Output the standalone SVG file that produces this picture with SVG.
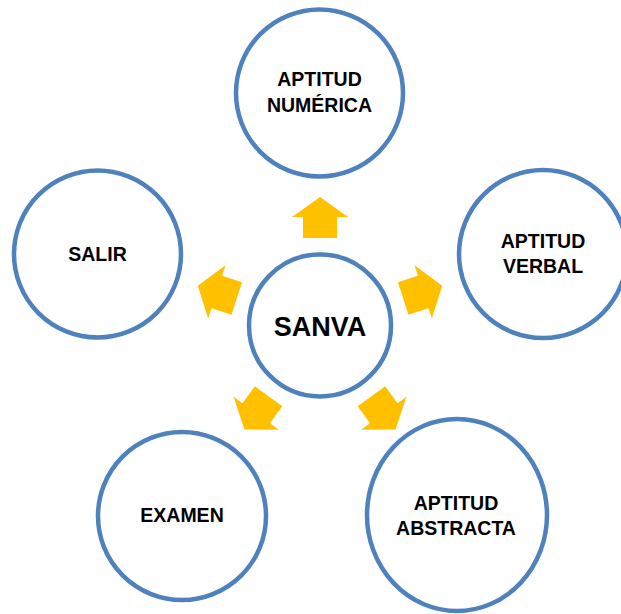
<svg xmlns="http://www.w3.org/2000/svg" width="621" height="614" viewBox="0 0 621 614">
  <style>
    .node { fill: #ffffff; stroke: #4f81bd; stroke-width: 4.5; }
    .label { font-family: "Liberation Sans", Arial, sans-serif; font-weight: bold; font-size: 19.5px; fill: #000000; text-anchor: middle; }
    .hub { font-size: 27px; }
    .arrow { fill: #ffc000; }
  </style>
  <defs>
    <!-- block arrow pointing up, drawn relative to the hub centre -->
    <path id="blockArrow" d="M0,-128.5 L28,-108.5 L17,-108.5 L17,-87.5 L-17,-87.5 L-17,-108.5 L-28,-108.5 Z"/>
  </defs>
  <rect width="621" height="614" fill="#ffffff"/>

  <g id="connectors" class="arrow" transform="translate(320,325.5)">
    <use href="#blockArrow"/>
    <use href="#blockArrow" transform="rotate(72)"/>
    <use href="#blockArrow" transform="rotate(144)"/>
    <use href="#blockArrow" transform="rotate(216)"/>
    <use href="#blockArrow" transform="rotate(288)"/>
  </g>

  <g id="sanva">
    <circle class="node" cx="320" cy="325.5" r="71"/>
    <text class="label hub" x="320" y="336">SANVA</text>
  </g>

  <g id="aptitud-numerica">
    <circle class="node" cx="319.5" cy="93" r="83.5"/>
    <text class="label" x="319.5" y="86">APTITUD</text>
    <text class="label" x="319.5" y="112">NUMÉRICA</text>
  </g>

  <g id="aptitud-verbal">
    <circle class="node" cx="543" cy="254" r="84"/>
    <text class="label" x="543" y="248">APTITUD</text>
    <text class="label" x="543" y="273">VERBAL</text>
  </g>

  <g id="aptitud-abstracta">
    <ellipse class="node" cx="457" cy="515" rx="90" ry="96"/>
    <text class="label" x="456" y="510">APTITUD</text>
    <text class="label" x="456" y="535">ABSTRACTA</text>
  </g>

  <g id="examen">
    <circle class="node" cx="182" cy="516" r="84"/>
    <text class="label" x="182" y="522">EXAMEN</text>
  </g>

  <g id="salir">
    <circle class="node" cx="97.5" cy="254" r="83.5"/>
    <text class="label" x="97.5" y="261">SALIR</text>
  </g>
</svg>
